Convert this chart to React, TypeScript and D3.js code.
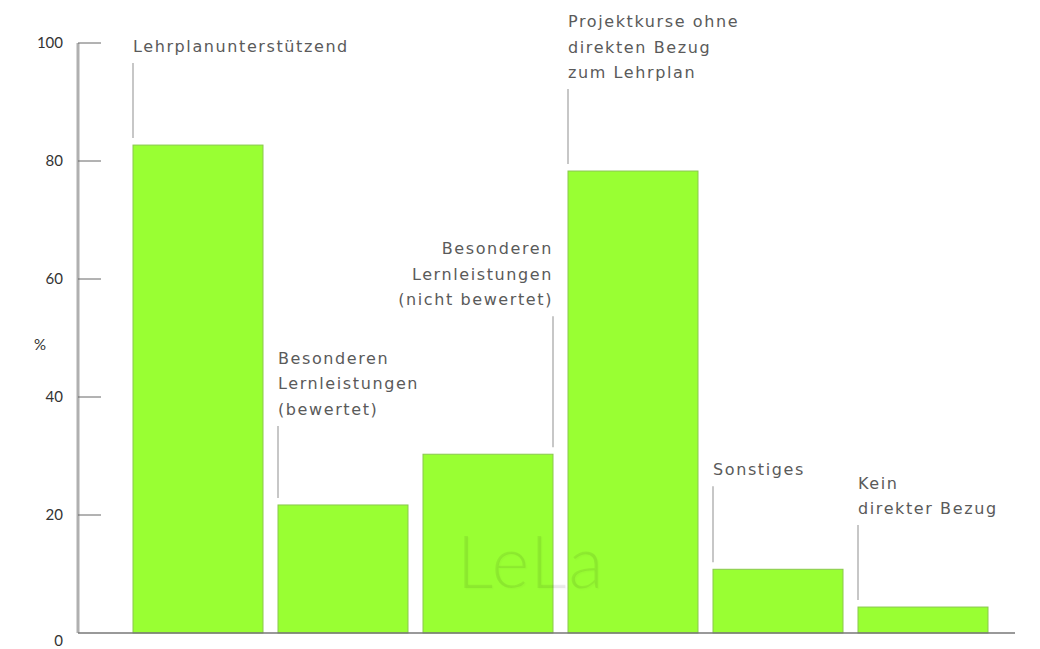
import React from "react";
import * as d3 from "d3";

const categories = [
  "Lehrplanunterstützend",
  "Besonderen Lernleistungen (bewertet)",
  "Besonderen Lernleistungen (nicht bewertet)",
  "Projektkurse ohne direkten Bezug zum Lehrplan",
  "Sonstiges",
  "Kein direkter Bezug",
];
const values = [82.7, 21.7, 30.3, 78.3, 10.8, 4.4];
const labelLines = [
  ["Lehrplanunterstützend"],
  ["Besonderen", "Lernleistungen", "(bewertet)"],
  ["Besonderen", "Lernleistungen", "(nicht bewertet)"],
  ["Projektkurse ohne", "direkten Bezug", "zum Lehrplan"],
  ["Sonstiges"],
  ["Kein", "direkter Bezug"],
];
const labelAlignRight = [false, false, true, false, false, false];
const labelGap = [75, 72, 131, 75, 76, 75];
const yTicks = [0, 20, 40, 60, 80, 100];

export default function App() {
  const W = 1040, H = 649;
  const x0 = 78, plotTop = 43, plotBottom = 633;
  const y = d3.scaleLinear().domain([0, 100]).range([plotBottom, plotTop]);
  const x = d3.scaleBand<string>().domain(categories).range([125.5, 995.5]).paddingInner(15 / 145).paddingOuter(7.5 / 145);
  const font = "'DejaVu Sans', sans-serif";
  const tickFont = "Lato, 'Open Sans', sans-serif";
  const lh = 25.5;
  return (
    <svg width={W} height={H} style={{ position: "absolute", left: 0, top: 0, background: "#fff" }}>
      <defs>
        <filter id="emboss" x="-10%" y="-10%" width="120%" height="130%">
          <feDropShadow dx={1.3} dy={1.3} stdDeviation={0.7} floodColor="#000" floodOpacity={0.3} />
        </filter>
      </defs>
      {categories.map((c, i) => {
        const bx = x(c)!;
        const bw = x.bandwidth();
        const top = y(values[i]);
        const lx = labelAlignRight[i] ? bx + bw : bx;
        const lines = labelLines[i];
        const lineTop = top - 7 - labelGap[i];
        const lastBase = lineTop - 11;
        return (
          <g key={c}>
            <rect x={bx} y={top} width={bw} height={plotBottom - top} fill="#99ff33" stroke="#8ac74f" strokeWidth={1} />
            <line x1={lx} x2={lx} y1={lineTop} y2={top - 7} stroke="#b5b5b5" strokeWidth={1.5} />
            {lines.map((t, j) => (
              <text key={j} x={lx} y={lastBase - (lines.length - 1 - j) * lh} fontFamily={font} fontSize={16}
                letterSpacing={1.6} fill="#5a5a5a" textAnchor={labelAlignRight[i] ? "end" : "start"}>{t}</text>
            ))}
          </g>
        );
      })}
      {/* watermark */}
      <text x={531} y={588} fontFamily={tickFont} fontSize={72} fontWeight={300} textAnchor="middle" letterSpacing={2}
        fill="#000" fillOpacity={0.07} filter="url(#emboss)">LeLa</text>
      {/* y axis */}
      <line x1={x0} x2={x0} y1={plotTop} y2={plotBottom} stroke="#b0b0b0" strokeWidth={3} />
      {yTicks.map((t) => (
        <g key={t}>
          {t > 0 && <line x1={x0} x2={x0 + 23} y1={y(t)} y2={y(t)} stroke="#666" strokeWidth={1} />}
          <text x={63} y={y(t) + 5 + (t === 0 ? 8 : 0)} textAnchor="end" fontFamily={tickFont} fontSize={15} fill="#333">{t}</text>
        </g>
      ))}
      <line x1={x0} x2={1015} y1={plotBottom} y2={plotBottom} stroke="#777" strokeWidth={1.5} />
      <text x={40} y={350} textAnchor="middle" fontFamily={tickFont} fontSize={15} fill="#333">%</text>
    </svg>
  );
}
